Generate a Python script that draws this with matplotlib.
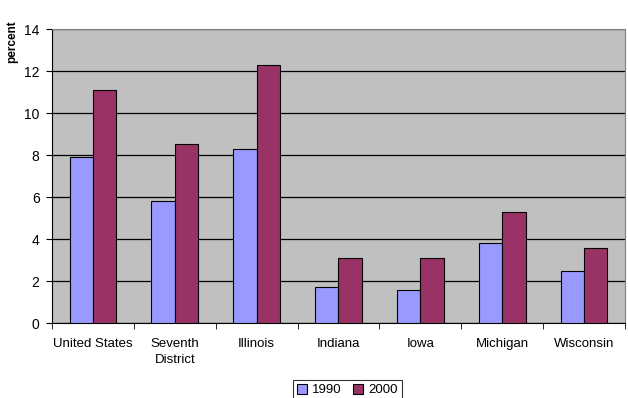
import numpy as np
import matplotlib.pyplot as plt
from matplotlib.ticker import FixedLocator

plt.rcParams['font.family'] = ['Liberation Sans', 'DejaVu Sans']

categories = ['United States', 'Seventh\nDistrict', 'Illinois', 'Indiana', 'Iowa', 'Michigan', 'Wisconsin']
values_1990 = [7.9, 5.8, 8.3, 1.7, 1.6, 3.8, 2.5]
values_2000 = [11.1, 8.55, 12.3, 3.1, 3.1, 5.3, 3.6]
y_ticks = [0, 2, 4, 6, 8, 10, 12, 14]

fig = plt.figure(figsize=(6.28, 3.98), dpi=100)
ax = fig.add_axes([0.083, 0.188, 0.912, 0.739])

x = np.arange(len(categories))
w = 0.286
ax.bar(x - w / 2, values_1990, w, color='#9999FF', edgecolor='black', linewidth=0.8, label='1990', zorder=3)
ax.bar(x + w / 2, values_2000, w, color='#993366', edgecolor='black', linewidth=0.8, label='2000', zorder=3)

ax.set_facecolor('#C0C0C0')
ax.set_xlim(-0.5, len(categories) - 0.5)
ax.set_ylim(0, 14)
ax.set_yticks(y_ticks)
ax.yaxis.grid(True, color='black', linewidth=0.9, zorder=1)
ax.set_axisbelow(True)

ax.set_xticks(x)
ax.set_xticklabels(categories, fontsize=9.5, va='top', linespacing=1.35)
ax.tick_params(axis='x', which='major', length=0, pad=11)
ax.xaxis.set_minor_locator(FixedLocator(np.arange(-0.5, len(categories), 1.0)))
ax.tick_params(axis='x', which='minor', length=4, direction='out', color='black')
ax.tick_params(axis='y', labelsize=10, length=4, direction='out', pad=5)

for side in ['top', 'right']:
    ax.spines[side].set_color('#808080')
for side in ['left', 'bottom']:
    ax.spines[side].set_color('black')

fig.text(0.019, 0.895, 'percent', rotation=90, fontsize=8.5, fontweight='bold', ha='center', va='center')

leg = fig.legend(loc='lower center', bbox_to_anchor=(0.553, -0.022), ncol=2, fontsize=9.5,
                 frameon=True, fancybox=False, edgecolor='black', handlelength=0.8,
                 handleheight=0.8, handletextpad=0.4, columnspacing=0.8, borderpad=0.3)
leg.get_frame().set_linewidth(0.8)

fig.savefig('out.png', dpi=100)
